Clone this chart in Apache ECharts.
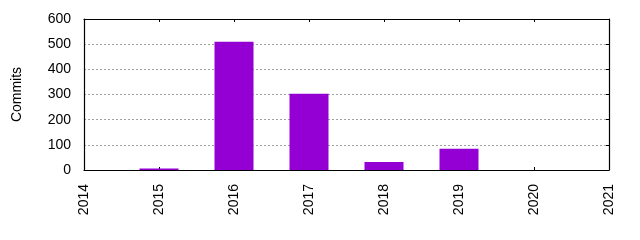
<!DOCTYPE html>
<html>
<head>
<meta charset="utf-8">
<script src="https://cdn.jsdelivr.net/npm/echarts@6/dist/echarts.min.js"></script>
<style>
html,body{margin:0;padding:0;background:#fff;}
#c{width:640px;height:240px;}
</style>
</head>
<body>
<div id="c"></div>
<script>
const years = [2015, 2016, 2017, 2018, 2019, 2020];
const commits = [6, 510, 303, 32, 84, 0];
const yTicks = [0, 100, 200, 300, 400, 500, 600];

const chart = echarts.init(document.getElementById('c'), null, {renderer: 'canvas'});
const font = "'Liberation Sans', Arial, sans-serif";
chart.setOption({
  animation: false,
  backgroundColor: '#fff',
  grid: {left: 84, right: 31, top: 19, bottom: 70, containLabel: false, outerBoundsMode: 'none'},
  xAxis: [{
    type: 'value', min: 2014, max: 2021, interval: 1, position: 'bottom',
    axisLine: {show: true, lineStyle: {color: '#000', width: 1.2}},
    axisTick: {show: true, inside: true, length: 3, lineStyle: {color: '#000'}},
    axisLabel: {rotate: 90, margin: 14, color: '#000', fontSize: 14, fontFamily: font,
      formatter: v => String(v)},
    splitLine: {show: false}
  }, {
    type: 'value', min: 2014, max: 2021, interval: 1, position: 'top',
    axisLine: {show: true, onZero: false, lineStyle: {color: '#000', width: 1.2}},
    axisTick: {show: true, inside: true, length: 3, lineStyle: {color: '#000'}},
    axisLabel: {show: false}, splitLine: {show: false}
  }],
  yAxis: [{
    type: 'value', min: 0, max: 600, interval: 100, position: 'left',
    name: 'Commits', nameLocation: 'middle', nameGap: 60, nameRotate: 90,
    nameTextStyle: {color: '#000', fontSize: 14, fontFamily: font},
    axisLine: {show: true, onZero: false, lineStyle: {color: '#000', width: 1.2}},
    axisTick: {show: false},
    axisLabel: {margin: 13, color: '#000', fontSize: 14, fontFamily: font},
    splitLine: {show: true, lineStyle: {color: '#a0a0a0', type: [2, 2], width: 1}}
  }, {
    type: 'value', min: 0, max: 600, interval: 100, position: 'right',
    axisLine: {show: true, onZero: false, lineStyle: {color: '#000', width: 1.2}},
    axisTick: {show: true, inside: true, length: 3, lineStyle: {color: '#000'}},
    axisLabel: {show: false}, splitLine: {show: false}
  }],
  series: [{
    type: 'bar', xAxisIndex: 0, yAxisIndex: 0,
    data: years.map((y, i) => [y, commits[i]]),
    barWidth: 39,
    itemStyle: {color: '#9400d3'}
  }]
});
</script>
</body>
</html>
